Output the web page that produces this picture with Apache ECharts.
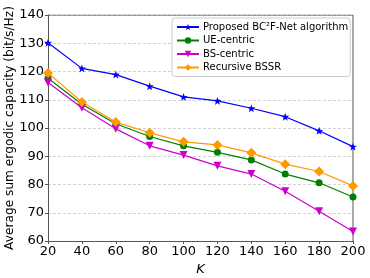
<!DOCTYPE html>
<html><head><meta charset="utf-8">
<script src="https://cdn.jsdelivr.net/npm/echarts@6/dist/echarts.min.js"></script>
<style>html,body{margin:0;padding:0;background:#fff}#c{width:370px;height:278px}</style>
</head><body><div id="c"></div>
<script>
const categories = [20, 40, 60, 80, 100, 120, 140, 160, 180, 200];
const proposed = [130.2, 121.1, 118.9, 114.8, 111.0, 109.6, 107.0, 104.0, 99.0, 93.4];
const ueCentric = [117.6, 108.4, 101.5, 97.0, 93.7, 91.4, 88.7, 83.7, 80.6, 75.6];
const bsCentric = [116.1, 107.2, 99.7, 93.7, 90.4, 86.6, 83.7, 77.6, 70.5, 63.4];
const recursive = [119.5, 109.2, 102.1, 98.3, 95.1, 94.0, 91.2, 87.2, 84.6, 79.5];
const names = ['Proposed BC\u00B2F-Net algorithm', 'UE-centric', 'BS-centric', 'Recursive BSSR'];
const yTicks = [60, 70, 80, 90, 100, 110, 120, 130, 140];

const chart = echarts.init(document.getElementById('c'));
function pairs(vals){ return categories.map((k,i)=>[k, vals[i]]); }
function ser(name, vals, color, symbol, size){
  return {name, type:'line', data:pairs(vals), symbol, symbolSize:size,
    lineStyle:{color, width:1.2}, itemStyle:{color}, z: 3, animation:false};
}
const font = 'DejaVu Sans';
chart.setOption({
  animation:false,
  textStyle:{fontFamily:font},
  grid:{left:48, right:17, top:15, bottom:37, outerBoundsMode:'none', containLabel:false},
  xAxis:{type:'value', min:20, max:200, interval:20,
    name:'K', nameLocation:'middle', nameGap:22, nameMoveOverlap:false,
    nameTextStyle:{fontStyle:'italic', fontSize:13, color:'#000', fontFamily:font},
    axisLine:{show:true, lineStyle:{color:'#555', width:1}},
    axisTick:{show:true, length:3, lineStyle:{color:'#555'}},
    axisLabel:{fontSize:13, color:'#000', margin:4, fontFamily:font},
    splitLine:{show:false}},
  yAxis:{type:'value', min:60, max:140, interval:10,
    name:'Average sum ergodic capacity (bit/s/Hz)', nameLocation:'middle', nameGap:32, nameMoveOverlap:false,
    nameTextStyle:{fontSize:12.2, color:'#000', fontFamily:font},
    axisLine:{show:true, lineStyle:{color:'#555', width:1}},
    axisTick:{show:true, length:3, lineStyle:{color:'#555'}},
    axisLabel:{fontSize:13, color:'#000', margin:4, fontFamily:font,
      formatter: v => yTicks.includes(v) ? String(v) : ''},
    splitLine:{show:true, lineStyle:{color:'#c8c8c8', type:[3,2], width:0.8}}},
  legend:{show:true, left:172, top:18, orient:'vertical', itemGap:3.5,
    itemWidth:22, itemHeight:8, padding:[4,2,4,4],
    backgroundColor:'#fff', borderColor:'#ccc', borderWidth:1, borderRadius:3,
    textStyle:{fontSize:10, color:'#000', fontFamily:font, padding:[0,0,0,-1]},
    data:names},
  series:[
    ser(names[0], proposed, '#0000ff', 'path://M0,-10 L2.35,-3.24 L9.51,-3.09 L3.8,1.24 L5.88,8.09 L0,4 L-5.88,8.09 L-3.8,1.24 L-9.51,-3.09 L-2.35,-3.24 Z', 8),
    ser(names[1], ueCentric, '#008000', 'circle', 7),
    ser(names[2], bsCentric, '#cc00cc', 'path://M-10,-8 L10,-8 L0,9 Z', 8),
    ser(names[3], recursive, '#ff9900', 'diamond', 10),
    {type:'line', data:[[20,140],[200,140]], symbol:'none', silent:true,
     lineStyle:{color:'#555', width:1}, z:1},
    {type:'line', data:[[200,60],[200,140]], symbol:'none', silent:true,
     lineStyle:{color:'#555', width:1}, z:1}
  ]
});
</script></body></html>
